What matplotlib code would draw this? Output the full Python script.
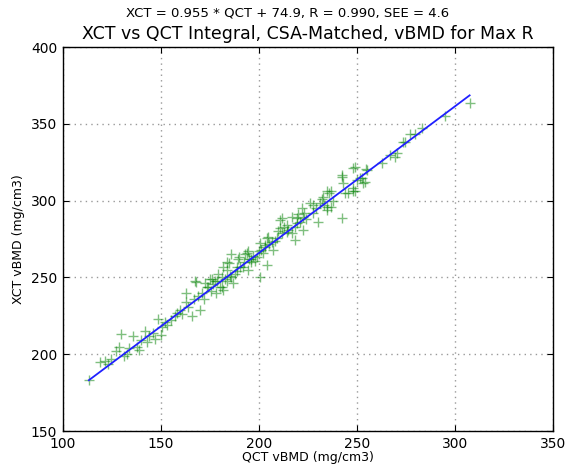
import numpy as np
import matplotlib
matplotlib.use("Agg")
import matplotlib.pyplot as plt

slope = 0.955
intercept = 74.9
R = 0.990
SEE = 4.6

qct = [113.3, 119, 121.4, 123, 124.5, 127, 128.5, 129.6, 131, 133, 134, 135.7, 137.8,
       138.8, 140, 141.8, 142.9, 144, 145.9, 147, 148.5, 150, 150.5, 152, 153, 155,
       157, 158, 160, 161, 163, 163, 164, 165.8, 167, 167.3, 168, 169, 170, 171, 172,
       172.4, 173.5, 174, 175, 175.5, 176, 176.5, 177.5, 178, 178.6, 179, 180, 181,
       181, 181.6, 181.6, 182.7, 183.7, 183.7, 184, 185, 185.5, 186, 186, 186.7,
       187.8, 188.8, 188.8, 189.3, 190, 190.5, 191.8, 192.5, 193, 194, 194.4, 194.4,
       195, 196, 196, 197, 198, 199, 200, 200.5, 200.5, 201, 202, 203, 203, 204, 204,
       204.6, 205, 206.6, 207, 208, 209, 210, 210.7, 210.7, 211.7, 212, 213, 214.3,
       214.3, 215, 216.8, 217, 218.4, 218.4, 219.4, 219.4, 220, 221, 222, 222.4,
       222.4, 223, 224, 226, 227.6, 227.6, 229, 230, 231, 232, 232.7, 233, 234.7,
       235, 235, 236, 237, 237, 238, 242.3, 242.3, 243, 242.3, 244, 245.4, 248, 248,
       248, 249, 249, 250, 251.5, 252.6, 253, 254, 254.6, 255, 262.8, 266.8, 269.4,
       270.4, 273.5, 274.5, 277, 279.6, 283, 295, 307.5]
xct = [183.1, 195, 195.5, 193.5, 197, 202, 205, 213, 199, 200, 204, 211.7, 205,
       203, 209, 215, 207.8, 212, 214, 210, 222.7, 212.3, 217.5, 220.8, 219, 222,
       224.7, 227, 229, 226, 240, 233.8, 231, 224.7, 235.7, 247.4, 247, 238, 229, 240,
       236, 246.7, 244, 243.5, 248.7, 241, 248.7, 245.5, 247.4, 240, 247.4, 252, 244,
       250.6, 244, 256.5, 242, 248.7, 255, 247.4, 260, 259.7, 251, 265, 250.6, 246.7,
       252, 256.5, 254, 261.7, 263, 257, 257, 260, 265, 266, 255, 266.9,
       262, 260, 261.7, 264, 261, 263, 267, 272.7, 250.6, 268, 266, 270, 271.4, 276,
       258.4, 276.6, 272, 273.4, 268, 274, 276, 280, 282.5, 287.7, 289, 279, 283,
       284.4, 279.9, 281, 279, 289.6, 274.7, 283, 285.7, 289, 291, 286, 295.5, 289.6,
       281, 292, 288, 298.7, 292, 297.4, 295, 286.4, 298.7, 301, 302.6, 297, 294,
       296, 306, 305, 306, 296, 300, 289, 317, 311.7, 315.6, 305, 305, 308, 321.4,
       306, 322, 306, 313.6, 315, 315, 311.7, 312, 320.8, 320, 324.7, 329.9, 328.6,
       331, 338.5, 338, 343.5, 343.5, 347.5, 355, 363.6]

fig = plt.figure(figsize=(5.76, 4.66), dpi=100)
ax = fig.add_axes([0.109, 0.075, 0.851, 0.824])

ax.plot(qct, xct, "+", color="green", alpha=0.5, markersize=6.5, markeredgewidth=1)
xs = np.array([min(qct), max(qct)])
ax.plot(xs, slope * xs + intercept, "-", color="#2020ff", linewidth=1.3)

ax.set_xlim(100, 350)
ax.set_ylim(150, 400)
ax.set_xticks(range(100, 351, 50))
ax.set_yticks(range(150, 401, 50))
ax.tick_params(direction="in", top=True, right=True, labelsize=10, length=4)
ax.tick_params(axis="x", pad=4)
ax.tick_params(axis="y", pad=4)
ax.grid(True, color="#999999", linestyle=(0, (1, 3)), linewidth=1)
for s in ax.spines.values():
    s.set_linewidth(1)

ax.set_xlabel("QCT vBMD (mg/cm3)", fontsize=9, labelpad=0)
ax.set_ylabel("XCT vBMD (mg/cm3)", fontsize=9)
ax.set_title("XCT vs QCT Integral, CSA-Matched, vBMD for Max R", fontsize=12.5, pad=6)
fig.text(0.5, 0.972, "XCT = %.3f * QCT + %.1f, R = %.3f, SEE = %.1f" % (slope, intercept, R, SEE),
         ha="center", va="center", fontsize=9.5)

plt.savefig("out.png", dpi=100)
